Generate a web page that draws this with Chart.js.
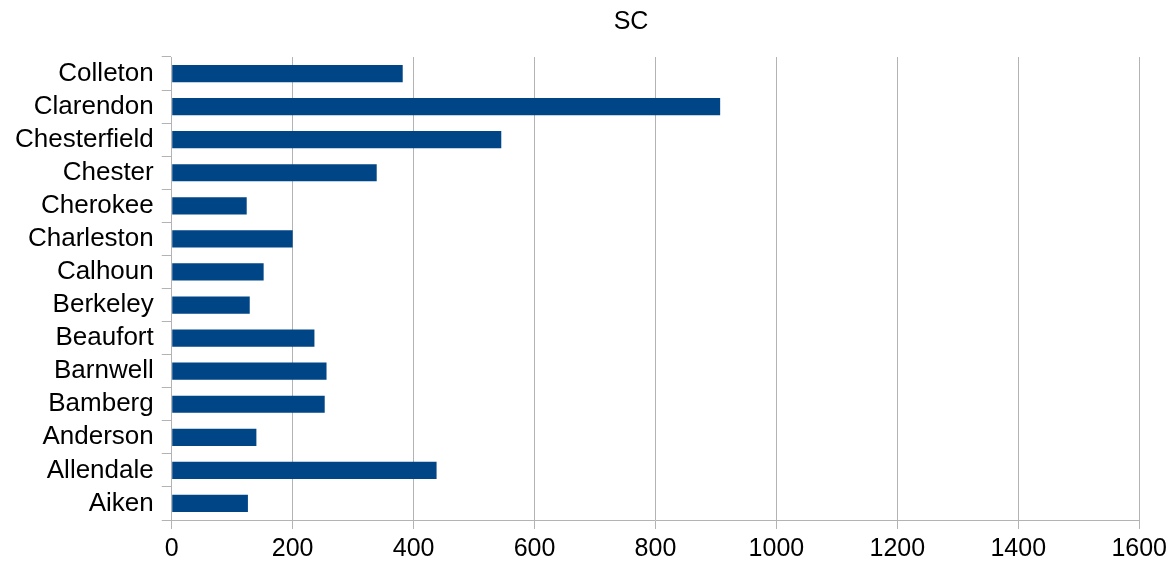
<!DOCTYPE html>
<html>
<head>
<meta charset="utf-8">
<script src="https://cdn.jsdelivr.net/npm/chart.js@4.4.0/dist/chart.umd.min.js"></script>
<style>
  html, body { margin: 0; padding: 0; background: #fff; }
  #wrap { position: relative; width: 1172px; height: 569px; }
  #title {
    position: absolute; top: 6px; left: 531px; width: 200px;
    text-align: center; font: 25px "Liberation Sans", Arial, sans-serif; color: #000;
  }
</style>
</head>
<body>
<div id="wrap">
  <canvas id="chart" width="1172" height="569"></canvas>
  <div id="title">SC</div>
</div>
<script>
// county names, top to bottom as shown
const counties = ['Colleton', 'Clarendon', 'Chesterfield', 'Chester', 'Cherokee', 'Charleston',
  'Calhoun', 'Berkeley', 'Beaufort', 'Barnwell', 'Bamberg', 'Anderson', 'Allendale', 'Aiken'];
const values = [382, 907, 545, 339, 124, 200, 152, 129, 236, 256, 253, 140, 438, 126];
const xTicks = [0, 200, 400, 600, 800, 1000, 1200, 1400, 1600];

const family = '"Liberation Sans", Arial, sans-serif';

new Chart(document.getElementById('chart'), {
  type: 'bar',
  data: {
    labels: counties,
    datasets: [{
      label: 'SC',
      data: values,
      backgroundColor: '#004586',
      barPercentage: 0.52,
      categoryPercentage: 1.0
    }]
  },
  options: {
    indexAxis: 'y',
    responsive: false,
    animation: false,
    layout: { padding: { top: 57, left: 7, right: 13, bottom: 0 } },
    plugins: { legend: { display: false }, tooltip: { enabled: false } },
    scales: {
      x: {
        min: 0, max: 1600,
        afterBuildTicks: axis => { axis.ticks = xTicks.map(v => ({ value: v })); },
        grid: { color: '#b3b3b3', lineWidth: 1, tickLength: 9 },
        border: { color: '#b3b3b3' },
        ticks: { color: '#000', font: { family: family, size: 25 }, padding: 5, callback: v => String(v) }
      },
      y: {
        grid: { offset: true, drawOnChartArea: false, color: '#b3b3b3', tickLength: 10 },
        border: { color: '#b3b3b3' },
        ticks: { color: '#000', font: { family: family, size: 26 }, padding: 8, autoSkip: false }
      }
    }
  }
});
</script>
</body>
</html>
